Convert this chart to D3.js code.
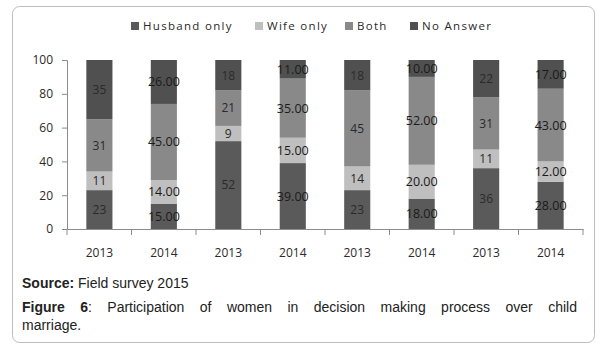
<!DOCTYPE html>
<html>
<head>
<meta charset="utf-8">
<script src="https://cdn.jsdelivr.net/npm/d3@7"></script>
<style>
  body { margin: 0; background: #fff; }
  #wrap { position: relative; width: 600px; height: 350px; }
  .caption { position: absolute; left: 22px; width: 555px; font-family: "Liberation Sans", Arial, sans-serif; font-size: 14px; line-height: 16px; color: #222; }
  .just { text-align: justify; text-align-last: justify; }
</style>
</head>
<body>
<div id="wrap"></div>
<script>
// Data
const years = ["2013", "2014", "2013", "2014", "2013", "2014", "2013", "2014"];
const seriesNames = ["Husband only", "Wife only", "Both", "No Answer"];
const husbandOnly = [23, 15, 52, 39, 23, 18, 36, 28];
const wifeOnly = [11, 14, 9, 15, 14, 20, 11, 12];
const both = [31, 45, 21, 35, 45, 52, 31, 43];
const noAnswer = [35, 26, 18, 11, 18, 10, 22, 17];
const labelDecimals = [0, 2, 0, 2, 0, 2, 0, 2];
const yTicks = [0, 20, 40, 60, 80, 100];

const colors = ["#5a5a5a", "#bfbfbf", "#898989", "#505050"];

function createChart() {
    const W = 600, H = 350;
    const margin = { top: 60, left: 67 };
    const width = 516, height = 169;

    const wrap = d3.select("#wrap");
    const svg = wrap.append("svg")
        .attr("width", W)
        .attr("height", H)
        .style("position", "absolute")
        .style("left", 0).style("top", 0);

    // ram
    svg.append("rect")
        .attr("x", 12.5).attr("y", 6.5)
        .attr("width", 582).attr("height", 336)
        .attr("rx", 7)
        .attr("fill", "none")
        .attr("stroke", "#bdbdbd");

    // tabell för stack
    const table = years.map((y, i) => ({
        idx: i, year: y,
        "Husband only": husbandOnly[i],
        "Wife only": wifeOnly[i],
        "Both": both[i],
        "No Answer": noAnswer[i]
    }));
    const stack = d3.stack().keys(seriesNames)(table);

    const x = d3.scaleBand()
        .domain(d3.range(years.length))
        .range([0, width])
        .paddingInner(0.595)
        .paddingOuter(0.3);
    const y = d3.scaleLinear().domain([0, 100]).range([height, 0]);

    const g = svg.append("g")
        .attr("transform", `translate(${margin.left},${margin.top})`);

    // staplar
    const layers = g.selectAll(".layer")
        .data(stack)
        .enter().append("g")
        .attr("fill", (d, i) => colors[i]);

    layers.selectAll("rect")
        .data(d => d)
        .enter().append("rect")
        .attr("x", d => x(d.data.idx))
        .attr("width", x.bandwidth())
        .attr("y", d => y(d[1]))
        .attr("height", d => y(d[0]) - y(d[1]));

    // etiketter
    layers.selectAll("text")
        .data(d => d.map(p => ({ p, key: d.key })))
        .enter().append("text")
        .attr("x", d => x(d.p.data.idx) + x.bandwidth() / 2)
        .attr("y", d => y((d.p[0] + d.p[1]) / 2))
        .attr("dy", "0.36em")
        .attr("text-anchor", "middle")
        .attr("fill", d => labelDecimals[d.p.data.idx] ? "#1a1a1a" : "#2a2a2a")
        .style("font-family", "'Open Sans', sans-serif")
        .style("font-size", d => labelDecimals[d.p.data.idx] ? "12.5px" : "12px")
        .text(d => (d.p.data[d.key]).toFixed(labelDecimals[d.p.data.idx]));

    // y-axel
    const yAxis = g.append("g")
        .call(d3.axisLeft(y).tickValues(yTicks).tickSize(5).tickPadding(9));
    // x-axel
    const xAxis = g.append("g")
        .attr("transform", `translate(0,${height})`)
        .call(d3.axisBottom(x).tickSize(0).tickPadding(19).tickFormat(i => years[i]));

    // tickmarks mellan kategorierna
    xAxis.selectAll(".sep")
        .data(d3.range(years.length + 1))
        .enter().append("line")
        .attr("class", "sep")
        .attr("x1", i => i * width / years.length)
        .attr("x2", i => i * width / years.length)
        .attr("y1", 0).attr("y2", 6)
        .attr("stroke", "#8c8c8c");

    [yAxis, xAxis].forEach(a => {
        a.select(".domain").attr("stroke", "#8c8c8c");
        a.selectAll(".tick line").attr("stroke", "#8c8c8c");
        a.selectAll(".tick text")
            .attr("fill", "#2a2a2a")
            .style("font-family", "'Open Sans', sans-serif")
            .style("font-size", "12px");
    });

    // legend
    const legendX = [131, 255, 345, 410];
    const legend = svg.append("g");
    const items = legend.selectAll("g")
        .data(seriesNames)
        .enter().append("g")
        .attr("transform", (d, i) => `translate(${legendX[i]},22)`);
    items.append("rect")
        .attr("width", 8).attr("height", 8)
        .attr("fill", (d, i) => colors[i]);
    items.append("text")
        .attr("x", 12).attr("y", 4)
        .attr("dy", "0.36em")
        .attr("fill", "#2a2a2a")
        .style("font-family", "'Open Sans', sans-serif")
        .style("font-size", "11.5px")
        .style("letter-spacing", "1.3px")
        .text(d => d);

    // bildtext
    wrap.append("div").attr("class", "caption")
        .style("top", "275px")
        .html("<b>Source:</b> Field survey 2015");
    wrap.append("div").attr("class", "caption just")
        .style("top", "299px")
        .html("<b>Figure 6</b>: Participation of women in decision making process over child");
    wrap.append("div").attr("class", "caption")
        .style("top", "317px")
        .text("marriage.");
}

createChart();
</script>
</body>
</html>
